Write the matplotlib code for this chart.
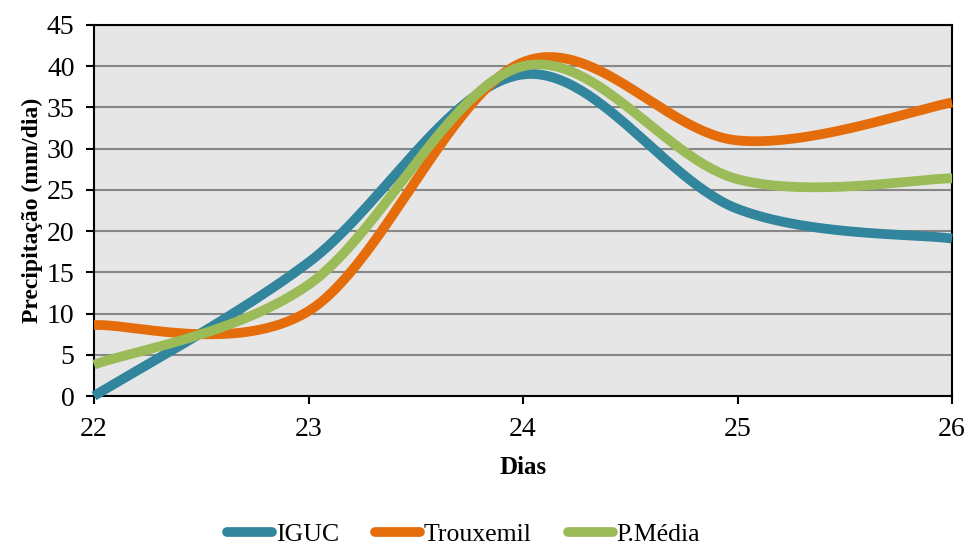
import numpy as np
import matplotlib
matplotlib.use("Agg")
import matplotlib.pyplot as plt
from matplotlib.lines import Line2D

# data
dias = [22, 23, 24, 25, 26]
iguc = [0.0, 16.2, 39.0, 22.7, 19.1]
trouxemil = [8.6, 10.3, 40.5, 31.0, 35.6]
p_media = [3.8, 13.5, 40.0, 26.3, 26.4]

series = [("IGUC", iguc, "#31859C"),
          ("Trouxemil", trouxemil, "#E46C0A"),
          ("P.Média", p_media, "#9BBB59")]


# Excel-like smoothed line (Catmull-Rom style cubic Bezier)
def smooth(x, y, n=60):
    p = np.column_stack([x, y]).astype(float)
    out = []
    for i in range(len(p) - 1):
        p0 = p[max(i - 1, 0)]
        p1 = p[i]
        p2 = p[i + 1]
        p3 = p[min(i + 2, len(p) - 1)]
        c1 = p1 + (p2 - p0) / 6
        c2 = p2 - (p3 - p1) / 6
        t = np.linspace(0, 1, n)[:, None]
        seg = ((1 - t) ** 3 * p1 + 3 * (1 - t) ** 2 * t * c1
               + 3 * (1 - t) * t ** 2 * c2 + t ** 3 * p2)
        out.append(seg if i == 0 else seg[1:])
    out = np.vstack(out)
    return out[:, 0], out[:, 1]


plt.rcParams['font.family'] = ['Liberation Serif', 'DejaVu Serif']

fig = plt.figure(figsize=(9.68, 5.47), dpi=100)
ax = fig.add_axes([0.0971, 0.276, 0.8864, 0.6783])
ax.set_facecolor('#E6E6E6')

for name, vals, col in series:
    sx, sy = smooth(dias, vals)
    ax.plot(sx, sy, color=col, linewidth=7, solid_capstyle='butt',
            clip_on=False, zorder=3)

ax.set_xlim(22, 26)
ax.set_ylim(0, 45)
ax.set_xticks(dias)
ax.set_yticks(np.arange(0, 46, 5))
ax.yaxis.grid(True, color='#878787', linewidth=1.5)
ax.set_axisbelow(True)
for s in ax.spines.values():
    s.set_linewidth(1.5)
    s.set_color('black')
ax.tick_params(axis='both', labelsize=20, length=6, width=1.5, direction='out')
ax.tick_params(axis='x', pad=9)
ax.tick_params(axis='y', pad=8)

ax.set_ylabel('Precipitação (mm/dia)', fontsize=17, fontweight='bold', labelpad=3)
ax.set_xlabel('Dias', fontsize=18, fontweight='bold', labelpad=10)

handles = [Line2D([0], [0], color=col, linewidth=7, solid_capstyle='round')
           for _, _, col in series]
fig.legend(handles, [s[0] for s in series], loc='center', bbox_to_anchor=(0.479, 0.022),
           ncol=3, frameon=False, fontsize=18.5, handlelength=1.75, handletextpad=0.15,
           columnspacing=1.4, borderpad=0)

fig.savefig('out.png', dpi=100)
